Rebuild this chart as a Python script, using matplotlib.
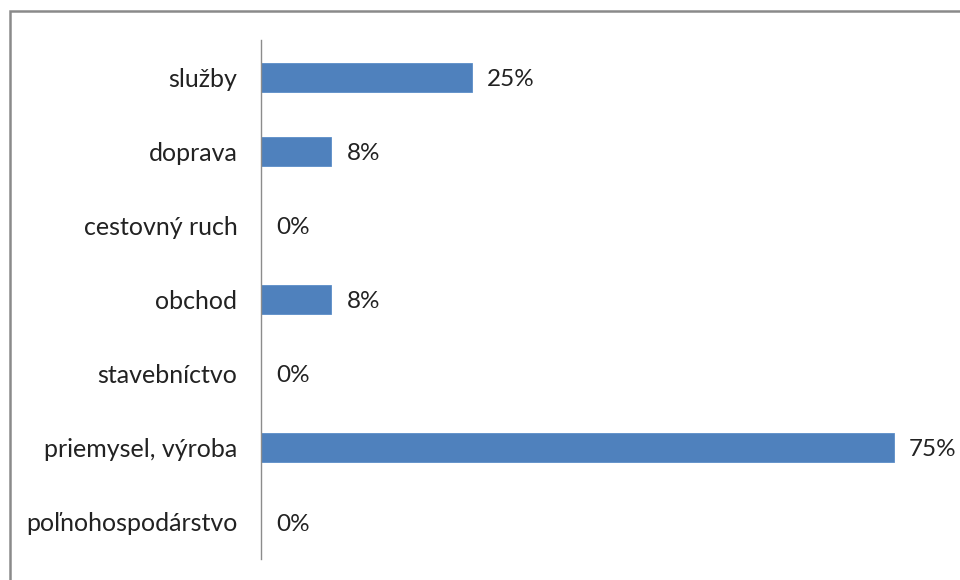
import matplotlib.pyplot as plt
from matplotlib.patches import Rectangle

categories = ['poľnohospodárstvo', 'priemysel, výroba', 'stavebníctvo', 'obchod',
              'cestovný ruch', 'doprava', 'služby']
values = [0, 75, 0, 8.33, 0, 8.33, 25]
labels = ['0%', '75%', '0%', '8%', '0%', '8%', '25%']

plt.rcParams['font.family'] = ['Lato', 'DejaVu Sans']

fig = plt.figure(figsize=(9.6, 5.8), dpi=100)
W, H = 960, 580
# axes placed in pixel terms: left at 261, top 40, bottom 559
ax = fig.add_axes([261 / W, (H - 559) / H, 675 / W, 519 / H])

y = list(range(len(categories)))
ax.barh(y, values, height=0.39, color='#4F81BD', edgecolor='#5B8DC8', linewidth=0.6)
for yi, v, lab in zip(y, values, labels):
    ax.annotate(lab, (v, yi), xytext=(11, -1.5), textcoords='offset points',
                va='center', ha='left', fontsize=17.5, color='#222222')

ax.set_xlim(0, 80)
ax.set_ylim(-0.5, len(categories) - 0.5)
ax.set_yticks(y)
ax.set_yticklabels(categories, fontsize=18, color='#222222')
ax.tick_params(axis='y', length=0, pad=17)
ax.set_xticks([])
for side in ['top', 'right', 'bottom']:
    ax.spines[side].set_visible(False)
ax.spines['left'].set_color('#8c8c8c')
ax.spines['left'].set_linewidth(1.0)

# outer chart border, runs off the right and bottom edges
fig.add_artist(Rectangle((9.5 / W, -0.05), 1.1, (H - 10.5) / H + 0.05,
                         transform=fig.transFigure, fill=False,
                         edgecolor='#8a8a8a', linewidth=1.8))

fig.savefig('out.png', dpi=100)
